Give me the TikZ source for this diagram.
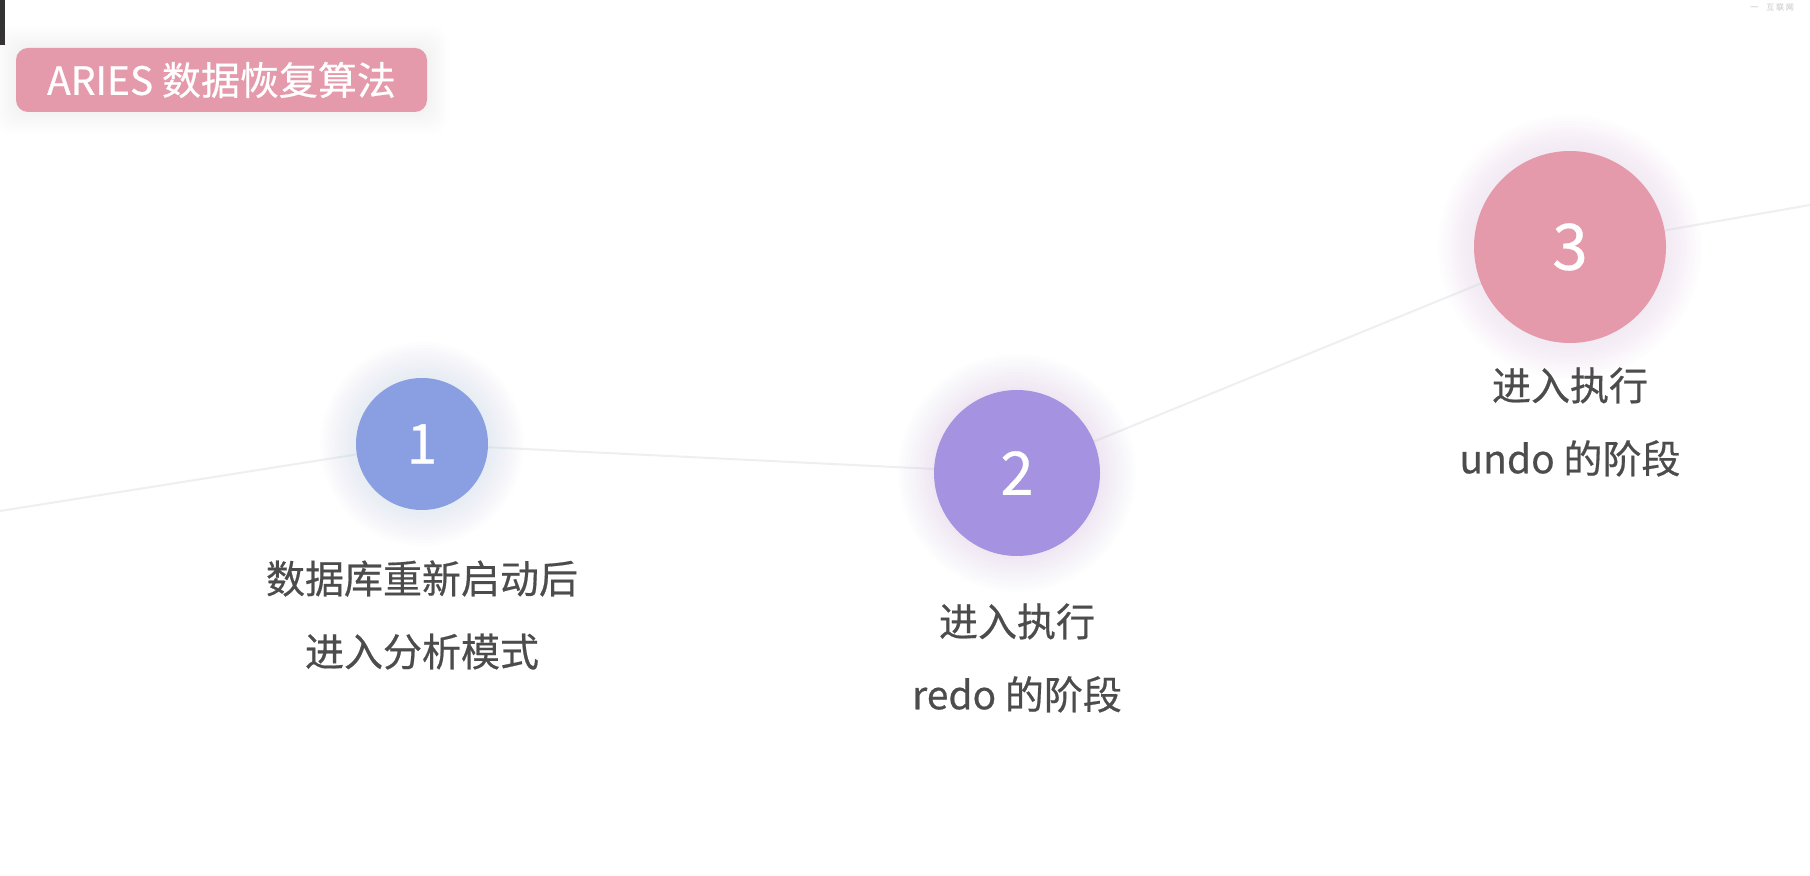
\documentclass[tikz,border=0pt]{standalone}
\usepackage{fontspec}
\setmainfont{Noto Sans CJK SC}[FakeBold = 0.5]

\definecolor{titlepink}{HTML}{E59AAB}
\definecolor{stepblue}{HTML}{8A9FE2}
\definecolor{steppurple}{HTML}{A592E0}
\definecolor{steppink}{HTML}{E59AAB}
\definecolor{pathgray}{HTML}{EFEFF2}
\definecolor{textgray}{HTML}{4C4C4C}
\definecolor{edgebar}{HTML}{333333}

\tikzset{
    stepdot/.style = {circle, inner sep = 0pt, text = white},
    steptext/.style = {text = textgray, align = center, font = \fontsize{19.5}{36.5}\selectfont},
    titlebox/.style = {fill = titlepink, rounded corners = 6pt, text = white, minimum width = 205.5pt,
                       minimum height = 32pt, inner sep = 0pt, font = \fontsize{19.5}{20}\selectfont}
}

\begin{document}
\begin{tikzpicture}[x = 0.5pt, y = -0.5pt]
                \useasboundingbox (0, 0) rectangle (1810, 876);
                \fill [white] (0, 0) rectangle (1810, 876);
                \fill [edgebar] (0, 0) rectangle (5, 45);

                \coordinate (start) at (0, 511);
                \coordinate (p1) at (422, 444);
                \coordinate (p2) at (1017, 473);
                \coordinate (p3) at (1570, 247);
                \coordinate (finish) at (1810, 205);

                \draw [pathgray, line width = 1pt] (start) -- (p1) -- (p2) -- (p3) -- (finish);

                \foreach \k in {1, ..., 12} {
                    \fill [stepblue, opacity = 0.012] (p1) circle ({33pt + \k * 1.5pt});
                    \fill [steppurple, opacity = 0.012] (p2) circle ({41.5pt + \k * 1.5pt});
                    \fill [steppink, opacity = 0.012] (p3) circle ({48pt + \k * 1.5pt});
                    \fill [titlepink, opacity = 0.008, rounded corners = 8pt]
                        (16 - \k * 1.8, 48 - \k * 1.8) rectangle (427 + \k * 1.8, 112 + \k * 1.8);
                }

                \node [titlebox] (title) at (221.5, 80) {ARIES 数据恢复算法};

                \node [stepdot, fill = stepblue, minimum size = 66pt, font = \fontsize{27.5}{28}\selectfont] (c1) at (p1) {1};
                \node [stepdot, fill = steppurple, minimum size = 83pt, font = \fontsize{30}{30}\selectfont] (c2) at (p2) {2};
                \node [stepdot, fill = steppink, minimum size = 96pt, font = \fontsize{32}{32}\selectfont] (c3) at (p3) {3};

                \node [steptext] (t1) at (422, 615) {数据库重新启动后\\进入分析模式};
                \node [steptext] (t2) at (1017, 658) {进入执行\\redo 的阶段};
                \node [steptext] (t3) at (1570, 422) {进入执行\\undo 的阶段};

                \node [text = gray!30, font = \fontsize{4}{4}\selectfont] (corner) at (1772, 7) {一\quad 互\ 联\ 网};
\end{tikzpicture}
\end{document}
